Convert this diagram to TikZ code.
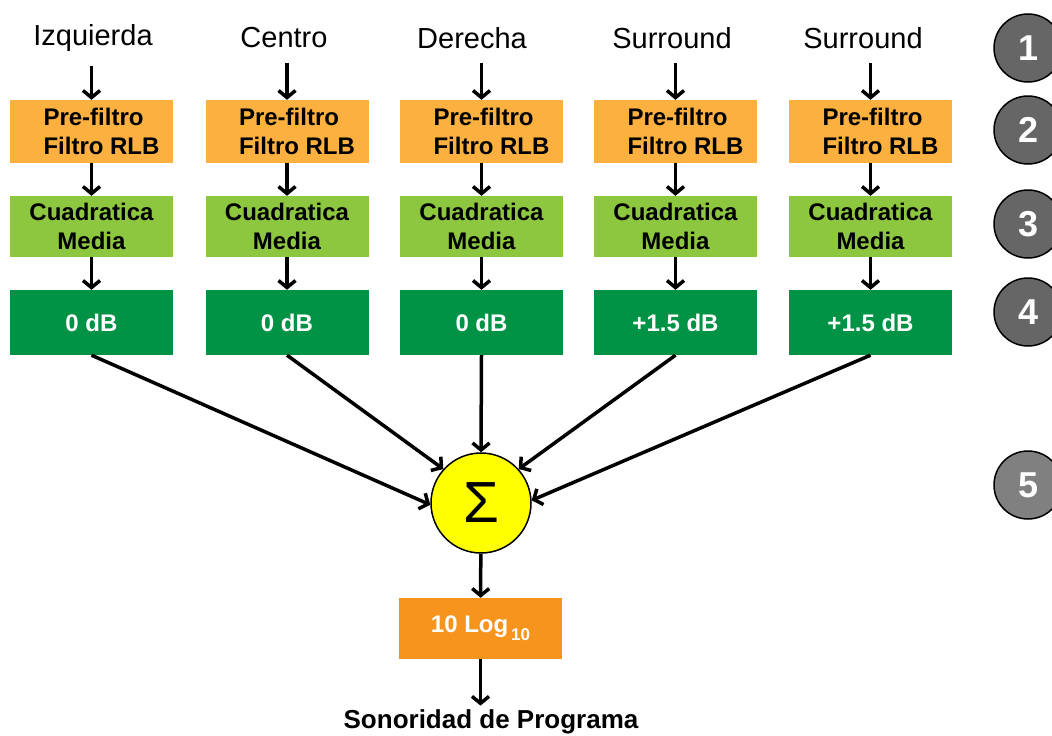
\documentclass[tikz,border=0pt]{standalone}
\usepackage{fontspec}
\setmainfont{Liberation Sans}
\definecolor{dnnaranja}{HTML}{FBB040}
\definecolor{dnnaranjadam}{HTML}{F7941D}
\definecolor{dnverde}{HTML}{8DC63F}
\definecolor{dnverdedam}{HTML}{009245}
\definecolor{dnamarillo}{HTML}{FFFF00}
\definecolor{dngris}{HTML}{666666}
\definecolor{dngrisclaro}{HTML}{808080}
\usetikzlibrary{arrows.meta,positioning}

\begin{document}
\begin{tikzpicture}[x=1pt,y=-1pt]
		\tikzstyle{flecha} = [-{Straight Barb[length=7pt,width=17pt,line width=3.5pt]},line width=3.5pt,black]
		\tikzstyle{caja} = [minimum width=163pt,inner sep=0pt,align=center,font=\fontsize{24}{29}\selectfont\bfseries]
		\tikzstyle{paso} = [circle,draw=black,line width=1.5pt,minimum size=68pt,inner sep=0pt,text=white,font=\fontsize{36}{36}\selectfont\bfseries]
		\useasboundingbox (0,0) rectangle (1052,736);
		% columnas
		\foreach \x/\xl/\i/\canal in {91.5/93/1/Izquierda,287/284/2/Centro,481.5/472/3/Derecha,675.5/672/4/Surround,870.5/863/5/Surround}{
			\node[font=\fontsize{29}{29}\selectfont] (lbl\i) at (\xl,38) {\canal};
			\node[caja,fill=dnnaranja,minimum height=63pt,align=left] (pre\i) at (\x,131.5) {\hspace*{20pt}Pre-filtro\\\hspace*{20pt}Filtro RLB};
			\node[caja,fill=dnverde,minimum height=61pt] (cm\i) at (\x,226.5) {Cuadratica\\Media};
			\draw[flecha,shorten <=11pt] (lbl\i.south -| pre\i) -- (pre\i);
			\draw[flecha] (pre\i) -- (cm\i);
		}
		\node[caja,fill=dnverdedam,minimum height=65pt,text=white] (gan1) at (91.5,322.5) {0 dB};
		\node[caja,fill=dnverdedam,minimum height=65pt,text=white] (gan2) at (287,322.5) {0 dB};
		\node[caja,fill=dnverdedam,minimum height=65pt,text=white] (gan3) at (481.5,322.5) {0 dB};
		\node[caja,fill=dnverdedam,minimum height=65pt,text=white] (gan4) at (675.5,322.5) {+1.5 dB};
		\node[caja,fill=dnverdedam,minimum height=65pt,text=white] (gan5) at (870.5,322.5) {+1.5 dB};
		\foreach \i in {1,...,5}{\draw[flecha] (cm\i) -- (gan\i);}
		% suma
		\node[circle,draw=black,line width=1.5pt,fill=dnamarillo,minimum size=100pt,inner sep=0pt,font=\fontsize{58}{58}\selectfont] (suma) at (481,503) {Σ};
		\draw[flecha] (gan1.south) -- (suma.182);
		\draw[flecha] (gan2.south) -- (suma.138);
		\draw[flecha] (gan3.south) -- (suma.north);
		\draw[flecha] (gan4.south) -- (suma.42);
		\draw[flecha] (gan5.south) -- (suma.3);
		\node[caja,fill=dnnaranjadam,minimum height=61pt,text=white] (logn) at (480.5,628.5) {10 Log\raisebox{-8pt}{\fontsize{17}{17}\selectfont\,10}};
		\node[font=\fontsize{26}{26}\selectfont\bfseries,inner sep=0pt] (res) at (491,722) {Sonoridad de Programa};
		\draw[flecha] (suma) -- (logn);
		\draw[flecha,shorten >=4pt] (logn.south) -- (logn.south |- res.north);
		% pasos
		\node[paso,fill=dngris] (p1) at (1028,48) {1};
		\node[paso,fill=dngris] (p2) at (1028,130) {2};
		\node[paso,fill=dngris] (p3) at (1028,224) {3};
		\node[paso,fill=dngris] (p4) at (1028,312) {4};
		\node[paso,fill=dngrisclaro] (p5) at (1028,485) {5};
	\end{tikzpicture}
\end{document}
